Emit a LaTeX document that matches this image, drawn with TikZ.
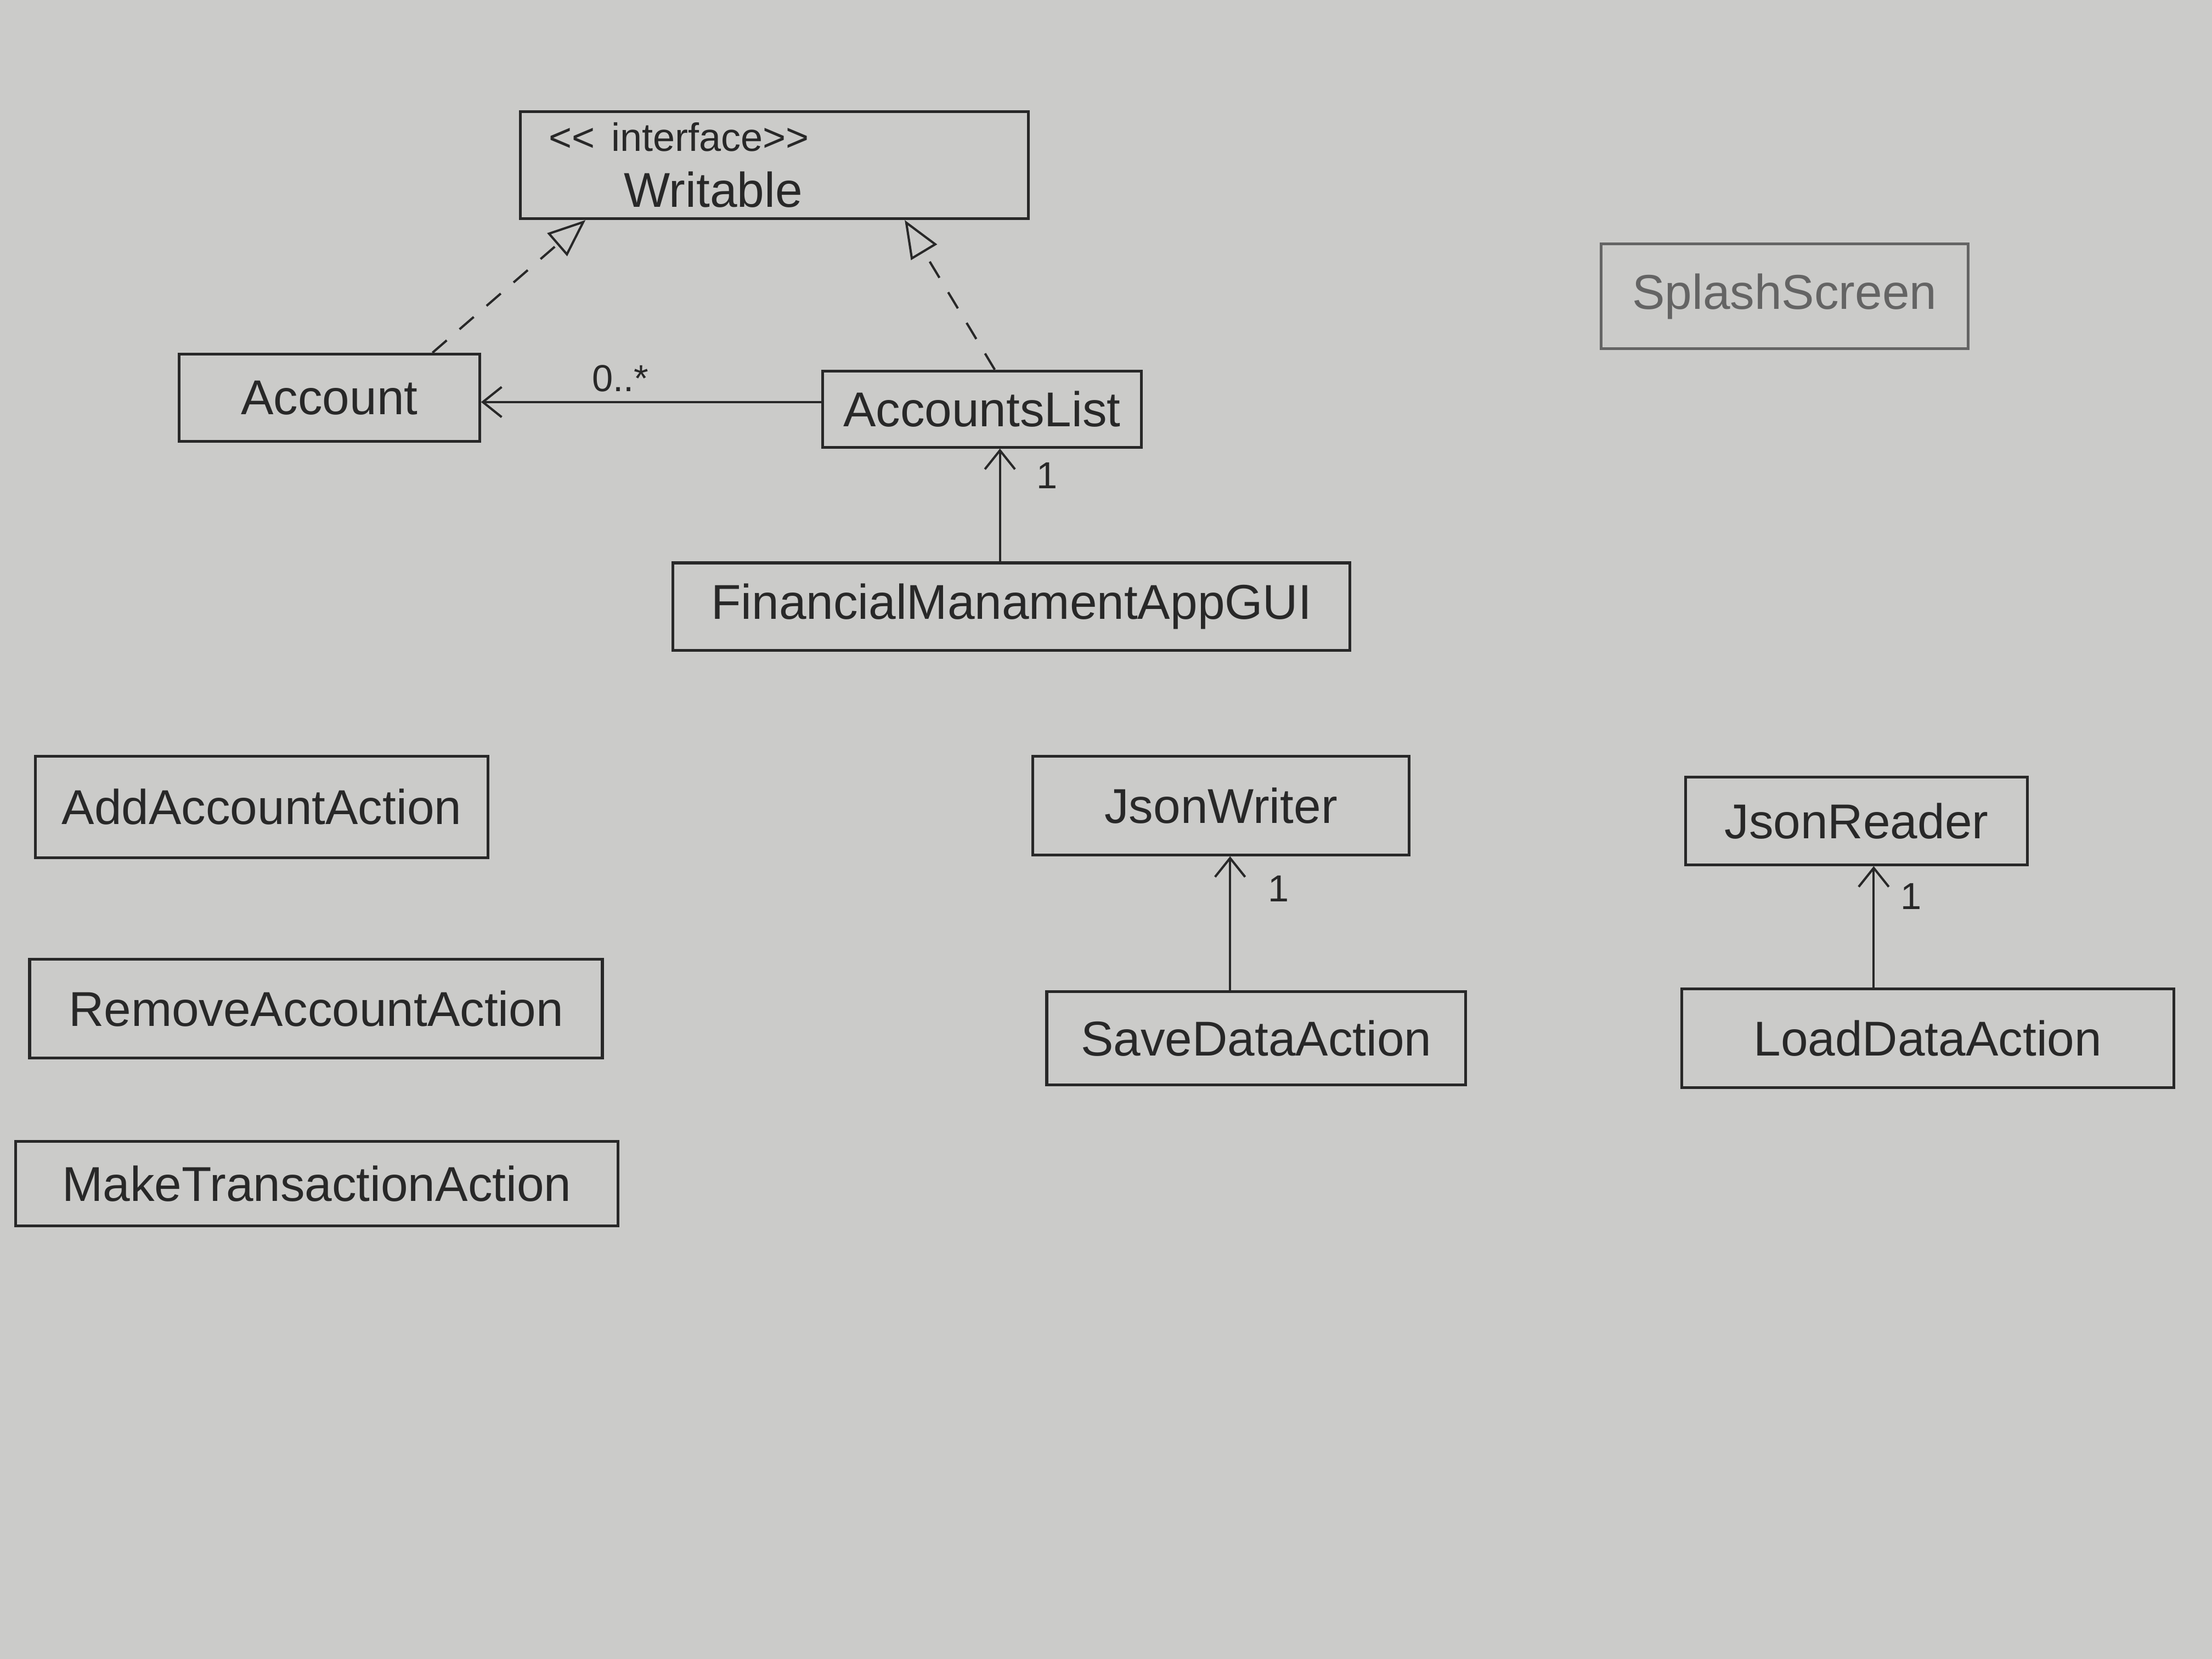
\documentclass[tikz,border=0pt]{standalone}
\usepackage{fontspec}
\setmainfont{Liberation Sans}
\usetikzlibrary{arrows.meta,calc}
\definecolor{paper}{RGB}{203,203,201}
\definecolor{pencil}{RGB}{40,40,40}
\definecolor{faint}{RGB}{100,100,100}

\tikzset{every picture/.style={line width=0.75pt}}

\begin{document}
\begin{tikzpicture}[x=0.75pt,y=0.75pt,yscale=-1,xscale=1,
  classbox/.style={draw=pencil, text=pencil, line width=1.5pt, anchor=north west, inner sep=0.75pt, font=\fontsize{26}{30}\selectfont},
  realize/.style={draw=pencil, line width=1.2pt, dash pattern=on 10pt off 9pt, -{Triangle[open,length=20pt,width=16pt]}},
  assoc/.style={draw=pencil, line width=1.2pt, -{Straight Barb[length=10pt,width=16pt]}},
  mult/.style={text=pencil, inner sep=0.75pt, font=\fontsize{20}{24}\selectfont}]
%set diagram left start at 0, and has height of 1176
\fill [paper] (0,0) rectangle (1568,1176);
\useasboundingbox (0,0) rectangle (1568,1176);

% Text Node
\draw (368,78) node (writable) [classbox, align=left, text width=240pt, inner xsep=15pt, minimum height=57pt] {\fontsize{26}{27}\selectfont{\fontsize{21}{27}\selectfont <{}< interface>{}>}\\\hspace*{40pt}Writable};
% Text Node
\draw (126,250) node (acct) [classbox, minimum width=159.75pt, minimum height=46.5pt] {Account};
% Text Node
\draw (582,262) node (alist) [classbox, minimum width=169.5pt, minimum height=40.5pt] {AccountsList};
% Text Node
\draw (476,398) node (gui) [classbox, minimum width=360pt, minimum height=46.5pt] {FinancialManamentAppGUI};
% Text Node
\draw (1134,172) node (splash) [classbox, draw=faint, text=faint, minimum width=195pt, minimum height=55.5pt] {SplashScreen};
% Text Node
\draw (24,535) node (addacc) [classbox, minimum width=240.75pt, minimum height=54pt] {AddAccountAction};
% Text Node
\draw (20,679) node (remacc) [classbox, minimum width=304.5pt, minimum height=52.5pt] {RemoveAccountAction};
% Text Node
\draw (10,808) node (maketx) [classbox, minimum width=320.25pt, minimum height=45pt] {MakeTransactionAction};
% Text Node
\draw (731,535) node (jwriter) [classbox, minimum width=200.25pt, minimum height=52.5pt] {JsonWriter};
% Text Node
\draw (741,702) node (savedata) [classbox, minimum width=222.75pt, minimum height=49.5pt] {SaveDataAction};
% Text Node
\draw (1194,550) node (jreader) [classbox, minimum width=181.5pt, minimum height=46.5pt] {JsonReader};
% Text Node
\draw (1191,700) node (loaddata) [classbox, minimum width=261.75pt, minimum height=52.5pt] {LoadDataAction};

%Dashed Lines
\draw [realize] ($(acct.north west)!0.84!(acct.north east)$) -- ($(writable.south west)!0.13!(writable.south east)$);
\draw [realize] ($(alist.north west)!0.54!(alist.north east)$) -- ($(writable.south west)!0.755!(writable.south east)$);

%Straight Lines
\coordinate (alistleft) at ([yshift=-3.75pt]alist.west);
\draw [assoc] (alistleft) -- (alistleft -| acct.east) node [mult, pos=0.59, above=4pt] {0..*};
\coordinate (guitop) at ($(gui.north west)!0.483!(gui.north east)$);
\draw [assoc] (guitop) -- (guitop |- alist.south) node [mult, pos=0.76, right=18pt] {1};
\coordinate (jwbot) at ($(jwriter.south west)!0.524!(jwriter.south east)$);
\draw [assoc] (savedata.north -| jwbot) -- (jwbot) node [mult, pos=0.76, right=19pt] {1};
\coordinate (jrbot) at ($(jreader.south west)!0.55!(jreader.south east)$);
\draw [assoc] (loaddata.north -| jrbot) -- (jrbot) node [mult, pos=0.75, right=13pt] {1};

\end{tikzpicture}
\end{document}
